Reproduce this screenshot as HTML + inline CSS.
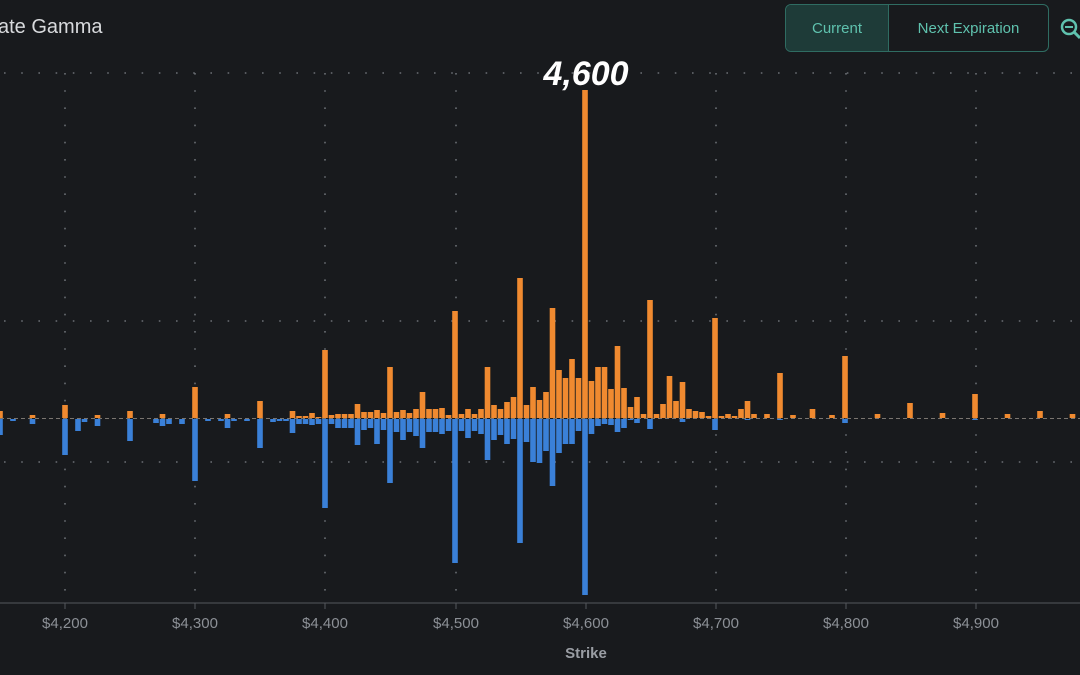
<!DOCTYPE html>
<html><head><meta charset="utf-8">
<style>
html,body{margin:0;padding:0;background:#181a1d;width:1080px;height:675px;overflow:hidden;font-family:"Liberation Sans",sans-serif;}
#wrap{position:relative;width:1080px;height:675px;}
.title{position:absolute;left:-2px;top:16px;color:#d8dadd;font-size:20px;}
.btns{position:absolute;left:785px;top:4px;width:262px;height:46px;border:1.5px solid #2f6c62;border-radius:6px;display:flex;overflow:hidden;}
.b1{width:102px;background:#1e3b38;color:#5fc2ae;font-size:15px;display:flex;align-items:center;justify-content:center;border-right:1.5px solid #2f6c62;}
.b2{flex:1;color:#5fc2ae;font-size:15px;display:flex;align-items:center;justify-content:center;}
</style></head><body><div id="wrap">
<svg id="chart" width="1080" height="675" style="position:absolute;left:0;top:0">
<g id="grid" stroke="#6a6e74" stroke-width="1.6" stroke-dasharray="1.6 15.6" fill="none"></g>
<g id="bars"></g>
<line x1="0" y1="418.5" x2="1080" y2="418.5" stroke="#7a7570" stroke-width="1" stroke-dasharray="4 3"/>
<line x1="0" y1="603" x2="1080" y2="603" stroke="#55585d" stroke-width="1"/>
<g id="ticks" stroke="#55585d"></g>
<g font-family="Liberation Sans, sans-serif" font-size="15" fill="#8c9096" text-anchor="middle">
<text x="65" y="628">$4,200</text><text x="195" y="628">$4,300</text><text x="325" y="628">$4,400</text><text x="456" y="628">$4,500</text><text x="586" y="628">$4,600</text><text x="716" y="628">$4,700</text><text x="846" y="628">$4,800</text><text x="976" y="628">$4,900</text>
<text x="586" y="658" font-weight="bold" fill="#9a9ea4">Strike</text>
</g>
<text x="586" y="85" text-anchor="middle" font-family="Liberation Sans, sans-serif" font-size="34" font-weight="bold" font-style="italic" fill="#ffffff">4,600</text>
<circle cx="1069" cy="27" r="7" fill="none" stroke="#5fc2ae" stroke-width="2.5"/>
<line x1="1065" y1="27" x2="1073" y2="27" stroke="#5fc2ae" stroke-width="2"/>
<line x1="1074" y1="32" x2="1080" y2="38" stroke="#5fc2ae" stroke-width="3"/>
</svg>
<div class="title">ate Gamma</div>
<div class="btns"><div class="b1">Current</div><div class="b2">Next Expiration</div></div>
</div>
<script>
var d={4150:[411,435],4160:[418,421],4175:[415,424],4200:[405,455],4210:[418,431],4215:[418,422],4225:[415,426],4250:[411,441],4270:[418,423],4275:[414,426],4280:[418,424],4290:[418,424],4300:[387,481],4310:[418,421],4320:[418,421],4325:[414,428],4330:[418,421],4340:[418,421],4350:[401,448],4360:[418,422],4365:[418,421],4370:[418,421],4375:[411,433],4380:[416,424],4385:[416,424],4390:[413,425],4395:[417,424],4400:[350,508],4405:[415,424],4410:[414,428],4415:[414,428],4420:[414,428],4425:[404,445],4430:[412,430],4435:[412,428],4440:[410,444],4445:[413,430],4450:[367,483],4455:[412,432],4460:[410,440],4465:[413,432],4470:[409,436],
4475:[392,448],4480:[409,432],4485:[409,432],4490:[408,434],4495:[415,431],4500:[311,563],4505:[414,431],4510:[409,438],4515:[414,431],4520:[409,434],4525:[367,460],4530:[405,440],4535:[409,435],4540:[402,444],4545:[397,439],4550:[278,543],4555:[405,442],4560:[387,462],4565:[400,463],4570:[392,451],4575:[308,486],4580:[370,453],4585:[378,444],4590:[359,444],4595:[378,431],4600:[90,595],4605:[381,434],4610:[367,426],4615:[367,424],4620:[389,425],4625:[346,432],4630:[388,428],4635:[407,420],4640:[397,423],4645:[414,419],4650:[300,429],4655:[414,419],4660:[404,419],4665:[376,419],4670:[401,419],4675:[382,422],4680:[409,419],4685:[411,419],4690:[412,419],4695:[416,419],4700:[318,430],4705:[416,419],4710:[414,419],4715:[416,419],4720:[409,419],4725:[401,420],4730:[414,419],4740:[414,419],4750:[373,420],4760:[415,419],4775:[409,419],4790:[415,419],4800:[356,423],4825:[414,419],4850:[403,419],4875:[413,419],4900:[394,420],4925:[414,419],4950:[411,419],4975:[414,419]};
var ns="http://www.w3.org/2000/svg",g=document.getElementById('bars');
function r(x,y,w,h,c){var e=document.createElementNS(ns,'rect');e.setAttribute('x',x);e.setAttribute('y',y);e.setAttribute('width',w);e.setAttribute('height',h);e.setAttribute('fill',c);g.appendChild(e);}
for(var k in d){var x=65+(k-4200)*1.3-2.8,o=d[k];if(o[0]<418)r(x,o[0],5.6,418-o[0],'#f08a30');if(o[1]>419)r(x,419,5.6,o[1]-419,'#3a80d8');}
var gr=document.getElementById('grid'),tk=document.getElementById('ticks');
function ln(p,x1,y1,x2,y2){var e=document.createElementNS(ns,'line');e.setAttribute('x1',x1);e.setAttribute('y1',y1);e.setAttribute('x2',x2);e.setAttribute('y2',y2);p.appendChild(e);}
[73,321,462].forEach(function(y){ln(gr,4,y,1080,y);});
[65,195,325,456,586,716,846,976].forEach(function(x){ln(gr,x,73,x,603);ln(tk,x,603,x,609);});
</script>
</body></html>
